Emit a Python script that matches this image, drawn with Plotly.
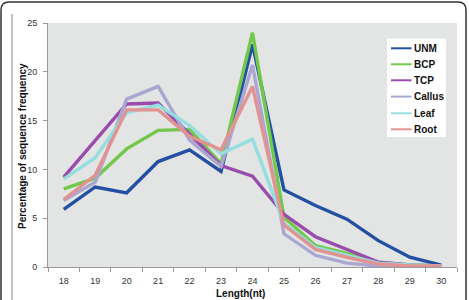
import plotly.graph_objects as go

lengths = ["18", "19", "20", "21", "22", "23", "24", "25", "26", "27", "28", "29", "30"]
unm    = [5.9, 8.2, 7.6, 10.8, 12.0, 9.8, 22.8, 7.9, 6.3, 4.9, 2.7, 1.0, 0.2]
bcp    = [8.0, 9.1, 12.1, 14.0, 14.1, 10.6, 24.0, 5.1, 2.2, 1.4, 0.5, 0.2, 0.1]
tcp    = [9.2, 13.0, 16.7, 16.8, 13.6, 10.4, 9.3, 5.4, 3.1, 1.8, 0.5, 0.2, 0.1]
callus = [6.8, 8.7, 17.2, 18.5, 13.0, 10.3, 20.7, 3.4, 1.2, 0.4, 0.1, 0.0, 0.0]
leaf   = [9.0, 11.2, 15.8, 16.6, 14.5, 11.6, 13.1, 4.5, 2.0, 1.2, 0.4, 0.2, 0.1]
root   = [6.9, 9.4, 16.1, 16.1, 13.4, 12.0, 18.5, 4.3, 1.8, 1.0, 0.3, 0.1, 0.1]

series = [
    ("UNM", unm, "#2350a3"),
    ("BCP", bcp, "#72c84a"),
    ("TCP", tcp, "#9a4cad"),
    ("Callus", callus, "#a9a7d1"),
    ("Leaf", leaf, "#96dede"),
    ("Root", root, "#e29291"),
]

W, H = 469, 300
ML, MR, MT, MB = 48, 12, 23, 33
pw, ph = W - ML - MR, H - MT - MB
def px(x):
    return (x - ML) / pw
def py(y):
    return (H - MB - y) / ph

fig = go.Figure()
for name, vals, col in series:
    fig.add_trace(go.Scatter(x=lengths, y=vals, name=name, mode="lines",
                             line=dict(color=col, width=3.4), showlegend=False))

fig.update_layout(
    width=W, height=H,
    margin=dict(l=ML, r=MR, t=MT, b=MB),
    paper_bgcolor="white",
    plot_bgcolor="#e2e5e4",
    font=dict(family="Liberation Sans, Arial, sans-serif", size=9, color="#333"),
    xaxis=dict(type="category", range=[-0.5, 12.5], showgrid=False,
               showline=True, linecolor="#999", linewidth=1,
               ticks="outside", ticklen=4, tickcolor="#999", tickson="boundaries",
               ticklabelstandoff=5,
               tickfont=dict(size=9, color="#333")),
    yaxis=dict(range=[0, 25], dtick=5, showgrid=False, zeroline=False,
               showline=True, linecolor="#999", linewidth=1,
               ticks="outside", ticklen=4, tickcolor="#999",
               ticklabelstandoff=4,
               tickfont=dict(size=9, color="#333")),
)

# axis titles
fig.add_annotation(x=px(22), y=py(146), xref="paper", yref="paper",
                   xanchor="center", yanchor="middle",
                   text="<b>Percentage of sequence frequency</b>",
                   showarrow=False, textangle=-90, font=dict(size=10, color="#111"))
fig.add_annotation(x=px(240), y=py(293), xref="paper", yref="paper",
                   xanchor="center", yanchor="middle",
                   text="<b>Length(nt)</b>",
                   showarrow=False, font=dict(size=10, color="#111"))

# legend (manual)
fig.add_shape(type="rect", xref="paper", yref="paper",
              x0=px(387), x1=px(446), y0=py(38.5), y1=py(137),
              fillcolor="white", line=dict(width=0))
row_y = [48.3, 64.3, 80.3, 96.6, 113.3, 129.3]
for (name, vals, col), yy in zip(series, row_y):
    fig.add_shape(type="line", xref="paper", yref="paper",
                  x0=px(391), x1=px(411.5), y0=py(yy), y1=py(yy),
                  line=dict(color=col, width=2))
    fig.add_annotation(x=px(411.5), y=py(yy), xref="paper", yref="paper",
                       xanchor="left", yanchor="middle", text=f"<b>{name}</b>",
                       showarrow=False, font=dict(size=10, color="#111"))

# outer rounded frame and inner line
fig.add_shape(type="path", xref="paper", yref="paper",
              path=f"M {px(1)},{py(320)} L {px(1)},{py(10)} Q {px(1)},{py(2)} {px(9)},{py(2)} "
                   f"L {px(458)},{py(2)} Q {px(466)},{py(2)} {px(466)},{py(10)} L {px(466)},{py(320)}",
              line=dict(color="#333", width=1.5))
fig.add_shape(type="line", xref="paper", yref="paper", x0=px(12), x1=px(12), y0=py(14), y1=py(320),
              line=dict(color="#888", width=1))

fig.write_html("out.html")
